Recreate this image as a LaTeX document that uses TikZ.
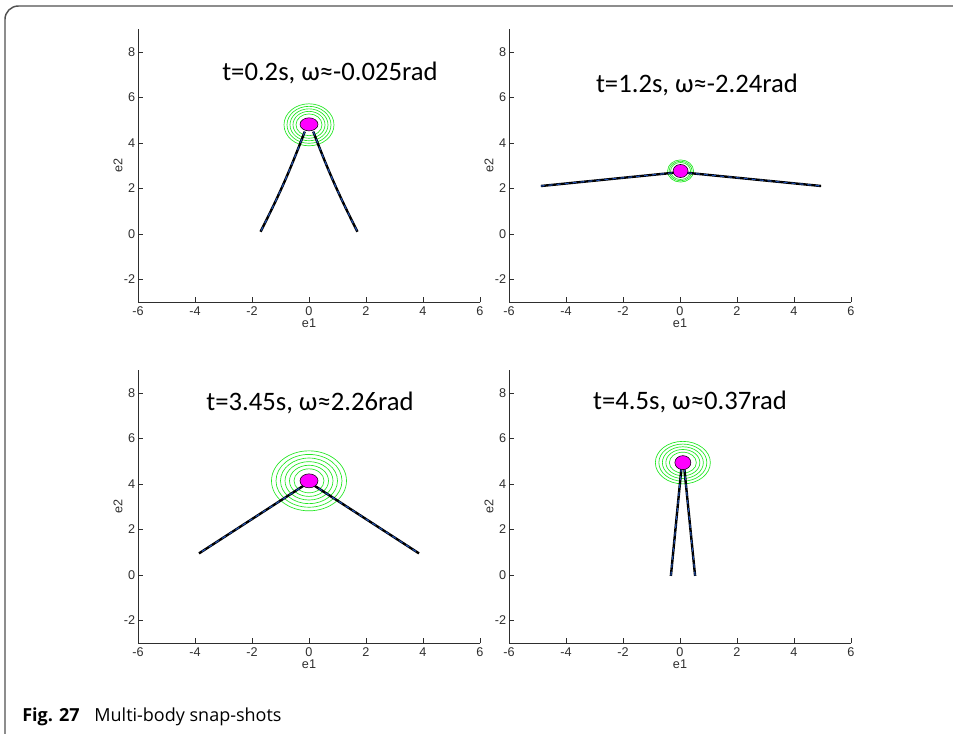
\documentclass[tikz,border=0pt]{standalone}
\usepackage{fontspec}
\setmainfont{Carlito}
\newfontfamily\axisfont{Liberation Sans}
\newfontfamily\capfont{Open Sans}
\usepackage{tikz}
\definecolor{FrameGray}{HTML}{505050}
\definecolor{TickGray}{HTML}{2E2E2E}
\definecolor{RingGreen}{HTML}{22E622}
\definecolor{MassPink}{HTML}{FF00FF}
\definecolor{LegBlue}{HTML}{1F4FB0}

% axes of one snapshot: left and bottom only, ticks inside
\newcommand{\snapaxes}{%
  \draw[axisline] (-6,9) -- (-6,-3) -- (6,-3);
  \foreach \xv in {-6,-4,...,6} {
    \draw[axisline] (\xv,-3) -- ++(0,3.75pt);
    \node[ticklab,below=3pt] at (\xv,-3) {\xv};
  }
  \foreach \yv in {-2,0,...,8} {
    \draw[axisline] (-6,\yv) -- ++(3.75pt,0);
    \node[ticklab,left=2pt] at (-6,\yv) {\yv};
  }
  \node[ticklab] at ([yshift=-15.5pt]0,-3) {e1};
  \node[ticklab,rotate=90] at ([xshift=-15pt]-6,3) {e2};
}

\begin{document}
\begin{tikzpicture}[x=0.75pt,y=-0.75pt]
  \tikzstyle{axisline}=[draw=TickGray,line width=0.7pt]
  \tikzstyle{ticklab}=[inner sep=0pt,text=TickGray,font=\axisfont\fontsize{9.5}{10}\selectfont]
  \tikzstyle{ring}=[draw=RingGreen,line width=0.5pt]
  \tikzstyle{mass}=[draw=black,fill=MassPink,line width=0.4pt]
  \tikzstyle{legline}=[draw=black,line width=1.8pt]
  \tikzstyle{legdash}=[draw=LegBlue,line width=0.8pt,dash pattern=on 3pt off 3pt]
  \tikzstyle{snaptitle}=[inner sep=0pt,font=\fontsize{20}{24}\selectfont]
  \useasboundingbox (0,0) rectangle (953,733);
  % frame
  \draw[FrameGray,line width=1.1pt,rounded corners=10pt] (5,740) -- (5,6) -- (960,6);

  % t=0.2s
  \begin{scope}[shift={(309,234)},x=21.375pt,y=17.0625pt]
    \snapaxes
    \foreach \r in {25,22,19,16,13}
      \draw[ring] (0,4.8) ellipse ({0.75*\r pt} and {0.63*\r pt});
    \foreach \p in {legline,legdash} {
      \draw[\p] (-0.15,4.5) to[bend left=3] (-1.7,0.1);
      \draw[\p] (0.15,4.5) to[bend right=3] (1.7,0.1);
    }
    \draw[mass] (0,4.82) ellipse (6.75pt and 4.9pt);
  \end{scope}
  \node[snaptitle] (title1) at (330,73) {t=0.2s, ω≈-0.025rad};

  % t=1.2s
  \begin{scope}[shift={(680,234)},x=21.375pt,y=17.0625pt]
    \snapaxes
    \foreach \r in {13,11.5,10}
      \draw[ring] (0.02,2.77) ellipse ({0.75*\r pt} and {0.64*\r pt});
    \foreach \p in {legline,legdash} {
      \draw[\p] (0,2.72) -- (-4.88,2.11);
      \draw[\p] (0,2.72) -- (4.95,2.11);
    }
    \draw[mass] (0.02,2.77) ellipse (5.6pt and 4.9pt);
  \end{scope}
  \node[snaptitle] (title2) at (697,85) {t=1.2s, ω≈-2.24rad};

  % t=3.45s
  \begin{scope}[shift={(309,575)},x=21.375pt,y=17.0625pt]
    \snapaxes
    \foreach \r in {37.5,33,28.5,24,19.5,15}
      \draw[ring] (0,4.14) ellipse ({0.75*\r pt} and {0.6*\r pt});
    \foreach \p in {legline,legdash} {
      \draw[\p] (-0.1,4.0) -- (-3.86,0.95);
      \draw[\p] (0.1,4.0) -- (3.86,0.95);
    }
    \draw[mass] (0,4.14) ellipse (6.75pt and 5.25pt);
  \end{scope}
  \node[snaptitle] (title3) at (310,403) {t=3.45s, ω≈2.26rad};

  % t=4.5s
  \begin{scope}[shift={(680,575)},x=21.375pt,y=17.0625pt]
    \snapaxes
    \foreach \r in {27.5,24,20.5,17,13.5}
      \draw[ring] (0.1,4.94) ellipse ({0.75*\r pt} and {0.58*\r pt});
    \foreach \p in {legline,legdash} {
      \draw[\p] (0.05,4.7) -- (-0.32,-0.04);
      \draw[\p] (0.15,4.7) -- (0.53,-0.04);
    }
    \draw[mass] (0.1,4.94) ellipse (6pt and 5.25pt);
  \end{scope}
  \node[snaptitle] (title4) at (690,402) {t=4.5s, ω≈0.37rad};

  % caption
  \node[anchor=base west,inner sep=0pt,font=\capfont\fontsize{13.5}{16}\selectfont] (cap) at (22,721)
    {\textbf{Fig. 27}\hspace{11pt}Multi-body snap-shots};
\end{tikzpicture}
\end{document}
